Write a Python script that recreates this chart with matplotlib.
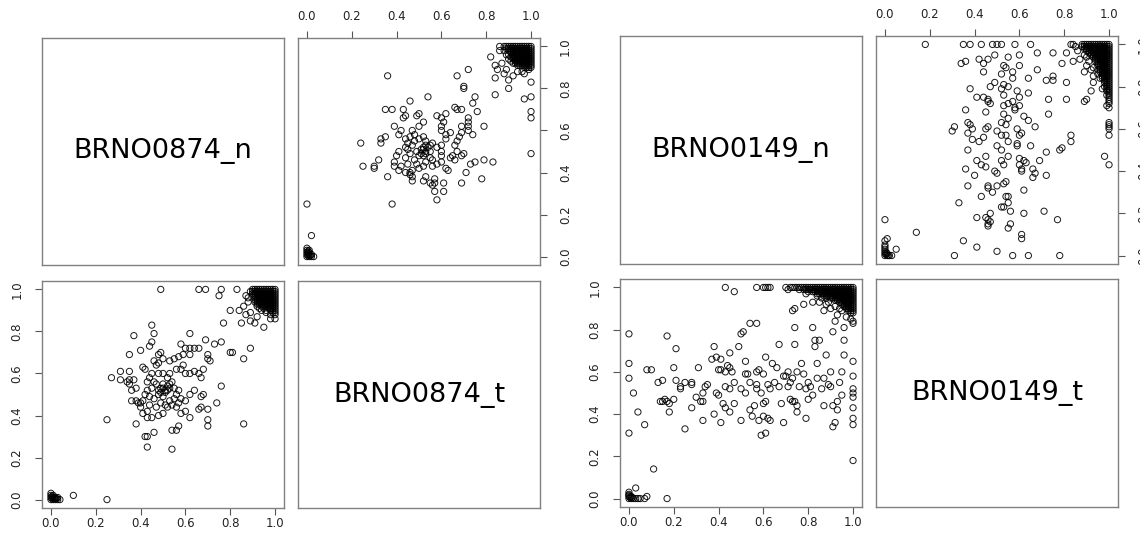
import matplotlib
matplotlib.use("Agg")
import matplotlib.pyplot as plt

# ---- data: (n, t) pairs ----
names_874 = ["BRNO0874_n", "BRNO0874_t"]
mid_874 = [
    (0.49, 1.0), (0.66, 1.0), (0.69, 1.0), (0.76, 1.0), (0.83, 1.0), (0.75, 0.97), (0.87, 0.97),
    (0.45, 0.83), (0.37, 0.78), (0.46, 0.79), (0.62, 0.79), (0.77, 0.84), (0.85, 0.84), (0.80, 0.90),
    (0.84, 0.90), (0.89, 0.72), (0.69, 0.76), (0.76, 0.75), (0.73, 0.74), (0.58, 0.74), (0.60, 0.72),
    (0.62, 0.72), (0.64, 0.72), (0.66, 0.72), (0.40, 0.71), (0.44, 0.73), (0.45, 0.75), (0.35, 0.69),
    (0.49, 0.70), (0.48, 0.69), (0.50, 0.67), (0.53, 0.66), (0.55, 0.67), (0.57, 0.68), (0.59, 0.69),
    (0.62, 0.69), (0.70, 0.69), (0.70, 0.67), (0.71, 0.66), (0.80, 0.70), (0.81, 0.70), (0.86, 0.67),
    (0.47, 0.64), (0.41, 0.63), (0.42, 0.62), (0.31, 0.61), (0.35, 0.61), (0.27, 0.58), (0.31, 0.57),
    (0.34, 0.56), (0.35, 0.57), (0.37, 0.57), (0.38, 0.53), (0.36, 0.52), (0.35, 0.55), (0.36, 0.47),
    (0.38, 0.47), (0.39, 0.46), (0.40, 0.46), (0.41, 0.47), (0.42, 0.50), (0.43, 0.52), (0.44, 0.49),
    (0.45, 0.53), (0.46, 0.56), (0.47, 0.55), (0.48, 0.52), (0.49, 0.53), (0.50, 0.55), (0.51, 0.52),
    (0.52, 0.54), (0.53, 0.53), (0.54, 0.56), (0.55, 0.53), (0.56, 0.50), (0.57, 0.52), (0.58, 0.48),
    (0.55, 0.48), (0.53, 0.47), (0.50, 0.49), (0.48, 0.50), (0.46, 0.48), (0.44, 0.45), (0.43, 0.42),
    (0.41, 0.41), (0.43, 0.39), (0.45, 0.39), (0.48, 0.40), (0.50, 0.41), (0.52, 0.44), (0.54, 0.45),
    (0.56, 0.44), (0.58, 0.41), (0.60, 0.42), (0.62, 0.39), (0.66, 0.43), (0.67, 0.44), (0.70, 0.43),
    (0.70, 0.38), (0.70, 0.35), (0.74, 0.46), (0.76, 0.54), (0.68, 0.50), (0.67, 0.58), (0.68, 0.62),
    (0.64, 0.61), (0.62, 0.60), (0.60, 0.60), (0.58, 0.62), (0.59, 0.64), (0.56, 0.62), (0.53, 0.60),
    (0.52, 0.58), (0.50, 0.60), (0.48, 0.60), (0.45, 0.60), (0.44, 0.58), (0.43, 0.56), (0.46, 0.66),
    (0.48, 0.65), (0.66, 0.60), (0.62, 0.50), (0.64, 0.52), (0.67, 0.49), (0.60, 0.47), (0.57, 0.46),
    (0.42, 0.30), (0.43, 0.30), (0.46, 0.32), (0.43, 0.25), (0.54, 0.24), (0.54, 0.33), (0.56, 0.33),
    (0.57, 0.35), (0.25, 0.38), (0.86, 0.36), (0.40, 0.44), (0.38, 0.36), (0.47, 0.44), (0.51, 0.45),
    (0.49, 0.46), (0.51, 0.51), (0.52, 0.52), (0.50, 0.53), (0.53, 0.55), (0.49, 0.51),
    (0.86, 0.92), (0.88, 0.94), (0.87, 0.88), (0.92, 0.87), (0.95, 0.82), (1.0, 0.86),
    (0.98, 0.86), (0.89, 0.85), (0.91, 0.84), (0.89, 0.89), (0.88, 0.96), (0.89, 0.99),
]
# dense corner block: one row of n values per t value
corner_t_874 = [1.0, 0.99, 0.98, 0.97, 0.96, 0.95, 0.94, 0.93, 0.92, 0.91, 0.90, 0.89, 0.88]
corner_n_874 = [
    [0.90, 0.91, 0.92, 0.93, 0.94, 0.95, 0.96, 0.97, 0.98, 0.99, 1.0],
    [0.90, 0.91, 0.92, 0.93, 0.94, 0.95, 0.96, 0.97, 0.98, 0.99, 1.0],
    [0.90, 0.91, 0.92, 0.93, 0.94, 0.95, 0.96, 0.97, 0.98, 0.99, 1.0],
    [0.90, 0.91, 0.92, 0.93, 0.94, 0.95, 0.96, 0.97, 0.98, 0.99, 1.0],
    [0.91, 0.92, 0.93, 0.94, 0.95, 0.96, 0.97, 0.98, 0.99, 1.0],
    [0.91, 0.92, 0.93, 0.94, 0.95, 0.96, 0.97, 0.98, 0.99, 1.0],
    [0.91, 0.92, 0.93, 0.94, 0.95, 0.96, 0.97, 0.98, 0.99, 1.0],
    [0.92, 0.93, 0.94, 0.95, 0.96, 0.97, 0.98, 0.99, 1.0],
    [0.92, 0.94, 0.95, 0.96, 0.97, 0.98, 0.99, 1.0],
    [0.93, 0.95, 0.97, 0.98, 0.99, 1.0],
    [0.94, 0.96, 0.98, 0.99, 1.0],
    [0.96, 0.99, 1.0],
    [0.98, 1.0],
]
zero_874 = [
    (0.0, 0.0), (0.0, 0.01), (0.0, 0.02), (0.0, 0.03), (0.01, 0.0), (0.01, 0.01), (0.01, 0.02),
    (0.02, 0.0), (0.02, 0.01), (0.03, 0.0), (0.04, 0.0), (0.005, 0.005), (0.015, 0.005),
    (0.025, 0.005), (0.005, 0.015), (0.03, 0.01), (0.10, 0.02), (0.25, 0.0),
]

names_149 = ["BRNO0149_n", "BRNO0149_t"]
mid_149 = [
    (0.0, 0.78), (0.0, 0.64), (0.0, 0.57), (0.0, 0.31), (0.02, 0.50), (0.04, 0.41), (0.07, 0.35),
    (0.08, 0.61), (0.10, 0.61), (0.11, 0.14),
    (0.13, 0.55), (0.15, 0.56), (0.14, 0.46), (0.15, 0.46), (0.16, 0.47), (0.17, 0.46), (0.18, 0.45),
    (0.18, 0.41), (0.20, 0.47), (0.17, 0.77), (0.20, 0.62), (0.21, 0.71), (0.21, 0.56), (0.23, 0.53),
    (0.23, 0.52), (0.25, 0.55), (0.25, 0.33), (0.28, 0.55), (0.28, 0.54), (0.28, 0.43), (0.30, 0.48),
    (0.31, 0.62), (0.32, 0.46), (0.33, 0.46), (0.33, 0.37), (0.33, 0.50), (0.34, 0.53), (0.35, 0.54),
    (0.37, 0.66), (0.38, 0.72), (0.38, 0.40), (0.39, 0.67), (0.39, 0.50), (0.40, 0.49), (0.40, 0.61),
    (0.41, 0.61), (0.41, 0.36), (0.41, 0.66), (0.42, 0.45), (0.43, 0.53), (0.43, 0.43), (0.43, 0.60),
    (0.44, 0.63), (0.45, 0.41), (0.45, 0.62), (0.45, 0.69), (0.45, 0.52), (0.46, 0.60), (0.47, 0.45),
    (0.47, 0.55), (0.49, 0.72), (0.50, 0.78), (0.50, 0.52), (0.50, 0.37), (0.51, 0.79), (0.52, 0.65),
    (0.52, 0.59), (0.53, 0.59), (0.52, 0.50), (0.54, 0.83), (0.54, 0.42), (0.54, 0.55), (0.55, 0.39),
    (0.56, 0.44), (0.57, 0.83), (0.57, 0.52), (0.57, 0.60), (0.57, 0.54), (0.58, 0.61), (0.58, 0.37),
    (0.59, 0.30), (0.59, 0.50), (0.60, 0.59), (0.60, 0.45), (0.60, 0.39), (0.61, 0.31), (0.61, 0.67),
    (0.61, 0.46), (0.62, 0.38), (0.62, 0.54), (0.63, 0.37), (0.63, 0.52), (0.64, 0.64), (0.65, 0.55),
    (0.66, 0.62), (0.67, 0.73), (0.67, 0.53), (0.68, 0.45), (0.69, 0.36), (0.69, 0.58), (0.70, 0.58),
    (0.71, 0.53), (0.71, 0.60), (0.72, 0.47), (0.72, 0.55), (0.73, 0.46), (0.73, 0.57), (0.74, 0.73),
    (0.74, 0.81), (0.74, 0.90), (0.74, 0.46), (0.75, 0.44), (0.75, 0.41), (0.75, 0.60), (0.76, 0.53),
    (0.77, 0.64), (0.78, 0.59), (0.79, 0.38), (0.79, 0.52), (0.80, 0.47), (0.80, 0.55), (0.81, 0.53),
    (0.82, 0.81), (0.82, 0.49), (0.83, 0.75), (0.83, 0.72), (0.84, 0.64), (0.84, 0.57), (0.85, 0.75),
    (0.86, 0.52), (0.87, 0.44), (0.87, 0.57), (0.88, 0.68), (0.89, 0.54), (0.90, 0.60), (0.90, 0.53),
    (0.91, 0.34), (0.91, 0.44), (0.92, 0.36), (0.93, 0.42), (0.93, 0.46), (0.94, 0.55), (0.95, 0.49),
    (0.95, 0.60), (0.96, 0.68), (0.96, 0.75), (0.96, 0.81), (1.0, 0.65), (1.0, 0.58), (1.0, 0.52),
    (1.0, 0.50), (1.0, 0.48), (1.0, 0.43), (1.0, 0.38), (1.0, 0.35), (1.0, 0.18), (1.0, 0.83),
    (0.43, 1.0), (0.47, 0.98), (0.57, 1.0), (0.60, 1.0), (0.61, 1.0), (0.62, 1.0), (0.63, 1.0),
    (0.70, 1.0), (0.71, 0.99), (0.78, 0.92), (0.79, 0.97), (0.82, 0.93), (0.85, 0.93), (0.87, 0.89),
    (0.88, 0.92), (0.90, 0.90), (0.92, 0.84), (0.93, 0.87), (0.95, 0.89), (0.91, 0.79), (0.88, 0.95),
    (0.73, 0.89), (0.86, 0.95), (0.84, 0.96), (0.89, 0.93), (0.92, 0.91), (0.94, 0.90), (0.97, 0.86),
    (0.99, 0.85), (1.0, 0.84),
]
corner_t_149 = [1.0, 0.99, 0.98, 0.97, 0.96, 0.95, 0.94, 0.93, 0.92, 0.91, 0.90, 0.89, 0.88]
corner_n_149 = [
    [0.72, 0.73, 0.74, 0.75, 0.76, 0.77, 0.78, 0.79, 0.80, 0.81, 0.82, 0.83, 0.84, 0.85, 0.86,
     0.87, 0.88, 0.89, 0.90, 0.91, 0.92, 0.93, 0.94, 0.95, 0.96, 0.97, 0.98, 0.99, 1.0],
    [0.76, 0.78, 0.79, 0.80, 0.81, 0.82, 0.83, 0.84, 0.85, 0.86, 0.87, 0.88, 0.89, 0.90, 0.91,
     0.92, 0.93, 0.94, 0.95, 0.96, 0.97, 0.98, 0.99, 1.0],
    [0.80, 0.82, 0.83, 0.84, 0.85, 0.86, 0.87, 0.88, 0.89, 0.90, 0.91, 0.92, 0.93, 0.94, 0.95,
     0.96, 0.97, 0.98, 0.99, 1.0],
    [0.84, 0.85, 0.86, 0.87, 0.88, 0.89, 0.90, 0.91, 0.92, 0.93, 0.94, 0.95, 0.96, 0.97, 0.98,
     0.99, 1.0],
    [0.87, 0.88, 0.89, 0.90, 0.91, 0.92, 0.93, 0.94, 0.95, 0.96, 0.97, 0.98, 0.99, 1.0],
    [0.90, 0.91, 0.92, 0.93, 0.94, 0.95, 0.96, 0.97, 0.98, 0.99, 1.0],
    [0.92, 0.93, 0.94, 0.95, 0.96, 0.97, 0.98, 0.99, 1.0],
    [0.94, 0.95, 0.96, 0.97, 0.98, 0.99, 1.0],
    [0.95, 0.96, 0.97, 0.98, 0.99, 1.0],
    [0.96, 0.97, 0.98, 0.99, 1.0],
    [0.97, 0.98, 0.99, 1.0],
    [0.98, 0.99, 1.0],
    [0.99, 1.0],
]
zero_149 = [
    (0.0, 0.0), (0.0, 0.01), (0.0, 0.02), (0.0, 0.03), (0.01, 0.0), (0.01, 0.01), (0.02, 0.0),
    (0.03, 0.0), (0.04, 0.0), (0.005, 0.005), (0.015, 0.005), (0.0, 0.015), (0.03, 0.05),
    (0.05, 0.0), (0.07, 0.0), (0.08, 0.01), (0.17, 0.0),
]

W, H = 1140, 537
BOX = '#808080'
TICKS = [0.0, 0.2, 0.4, 0.6, 0.8, 1.0]
LIM = (-0.04, 1.04)


def expand(corner_t, corner_n):
    return [(n, t) for t, row in zip(corner_t, corner_n) for n in row]


def px_axes(fig, x, y, w, h):
    return fig.add_axes([x / W, 1 - (y + h) / H, w / W, h / H])


def style(ax):
    ax.set_xlim(LIM)
    ax.set_ylim(LIM)
    for s in ax.spines.values():
        s.set_color(BOX)
        s.set_linewidth(1.0)
    ax.tick_params(length=5, width=0.8, color='#555555', labelsize=8.5,
                   labelcolor='#222222', direction='out')
    ax.tick_params(axis='y', pad=8.5)
    ax.tick_params(axis='x', pad=1.5)
    ax.set_xticks(TICKS)
    ax.set_yticks(TICKS)
    ax.set_xticklabels([f'{v:.1f}' for v in TICKS])
    ax.set_yticklabels([f'{v:.1f}' for v in TICKS], rotation=90, va='center')


def draw_pairs(fig, x0, y0, cw, ch, gap_x, gap_y, names, pts):
    n = [p[0] for p in pts]
    t = [p[1] for p in pts]
    xs = [x0, x0 + cw + gap_x]
    ys = [y0, y0 + ch + gap_y]
    # diagonal label panels
    for i, name in enumerate(names):
        ax = px_axes(fig, xs[i], ys[i], cw, ch)
        style(ax)
        ax.tick_params(left=False, bottom=False, labelleft=False, labelbottom=False)
        ax.text(0.5, 0.5, name, transform=ax.transAxes, ha='center', va='center',
                fontsize=19.5, color='black')
    # upper panel: x = t, y = n
    ax = px_axes(fig, xs[1], ys[0], cw, ch)
    style(ax)
    ax.scatter(t, n, s=20, facecolors='none', edgecolors='black', linewidths=0.7, alpha=0.9)
    ax.tick_params(top=True, labeltop=True, bottom=False, labelbottom=False,
                   right=True, labelright=True, left=False, labelleft=False)
    ax.tick_params(axis='x', pad=6)
    # lower panel: x = n, y = t
    ax = px_axes(fig, xs[0], ys[1], cw, ch)
    style(ax)
    ax.scatter(n, t, s=20, facecolors='none', edgecolors='black', linewidths=0.7, alpha=0.9)


fig = plt.figure(figsize=(W / 100, H / 100), dpi=100)
fig.patch.set_facecolor('white')

pts_874 = mid_874 + expand(corner_t_874, corner_n_874) + zero_874
pts_149 = mid_149 + expand(corner_t_149, corner_n_149) + zero_149
draw_pairs(fig, 42, 38, 242, 227, 14, 16, names_874, pts_874)
draw_pairs(fig, 620, 36, 242, 228, 14, 15, names_149, pts_149)

fig.savefig('out.png', dpi=100, facecolor='white')
